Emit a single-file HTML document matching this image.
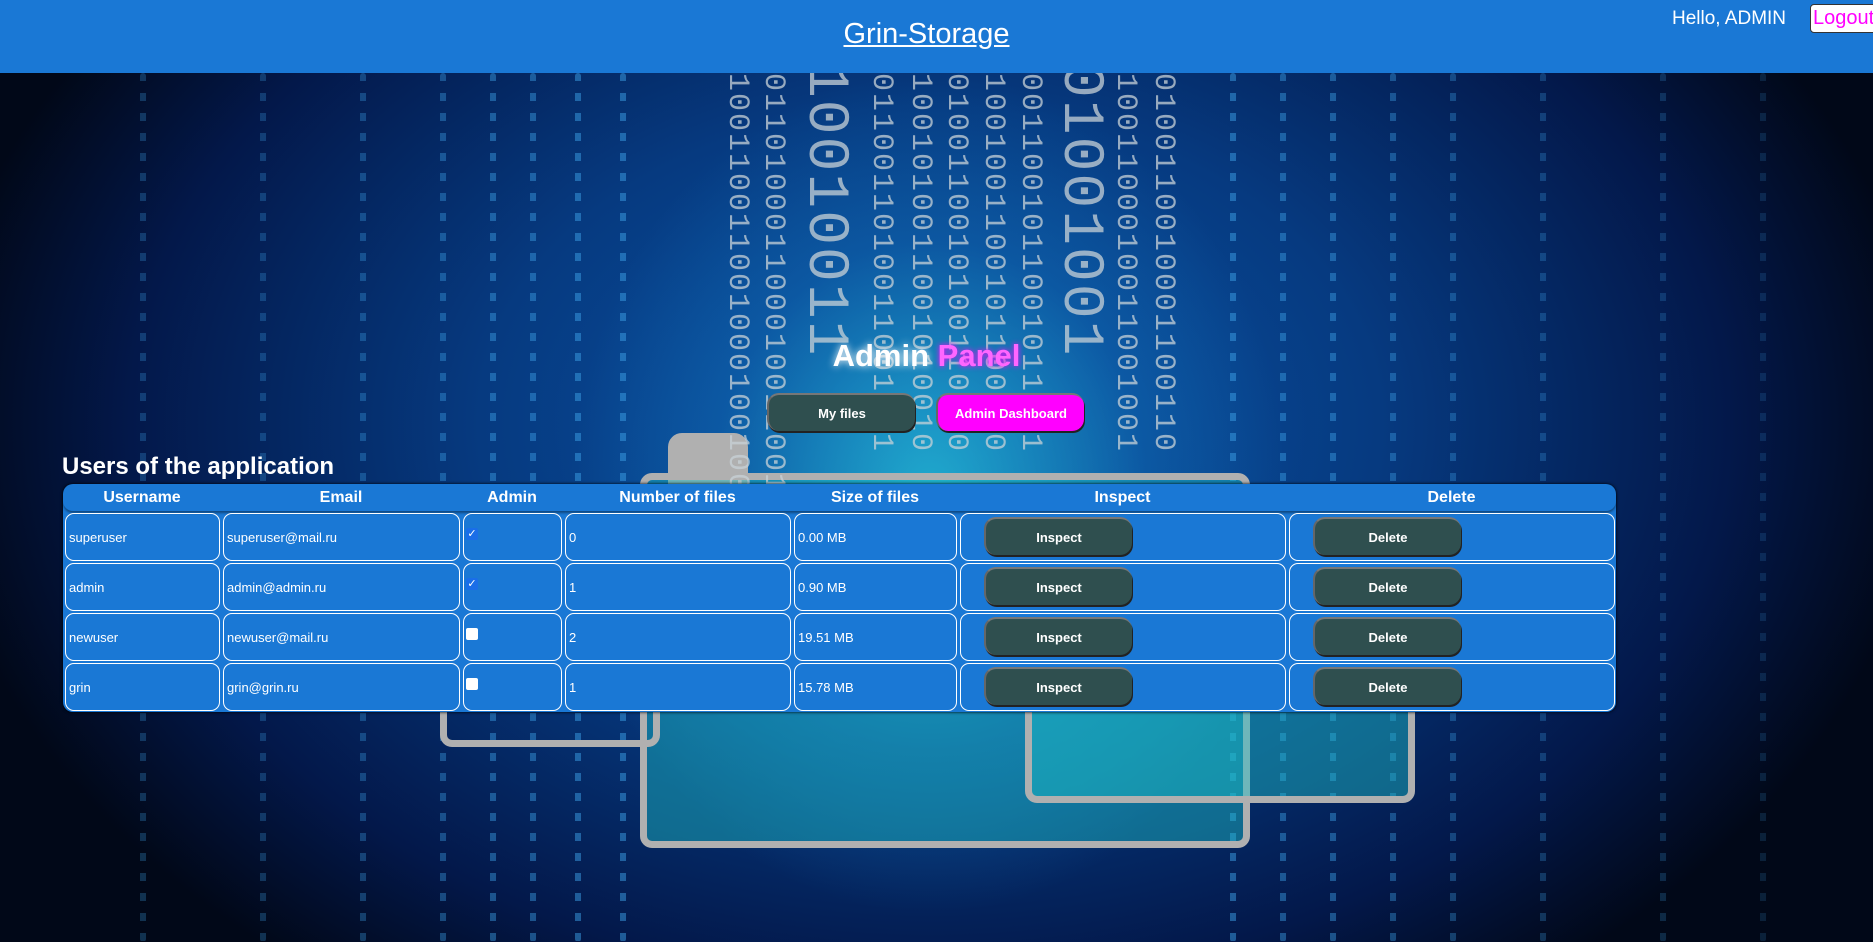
<!DOCTYPE html>
<html><head><meta charset="utf-8"><style>
*{margin:0;padding:0;box-sizing:border-box}
body{width:1873px;height:942px;overflow:hidden;position:relative;font-family:"Liberation Sans",sans-serif;background:#020c24}
#bg{position:absolute;left:0;top:73px;width:1873px;height:869px;overflow:hidden;
background:
radial-gradient(ellipse 360px 420px at 930px 420px,rgba(40,200,220,.75),rgba(20,120,190,.35) 60%,transparent 100%),
radial-gradient(ellipse 1000px 700px at 930px 350px,#0a55a8 0%,#063a80 45%,#03184a 80%,#010818 100%);}
.dots{position:absolute;top:0;width:6px;height:869px;background:repeating-linear-gradient(to bottom,rgba(60,160,230,.55) 0 8px,transparent 8px 20px);border-radius:3px}
.bin{position:absolute;top:0;writing-mode:vertical-rl;color:rgba(200,210,215,.75);font-family:"Liberation Mono",monospace;font-size:30px;line-height:1;white-space:nowrap;letter-spacing:2px}
.folder{position:absolute;border:7px solid #b0b0b0;border-radius:12px}
.hdr{position:absolute;left:0;top:0;width:1873px;height:73px;background:#1a78d5}
.cell{position:absolute;border:1.5px solid #fff;border-radius:9px;color:#fff;font-size:13px;display:flex;align-items:center;padding-left:3px}
.th{position:absolute;top:489px;color:#fff;font-weight:bold;font-size:16px;text-align:center}
.btn{position:absolute;width:148px;height:38px;background:#2f4f4f;border-radius:12px;color:#fff;font-weight:bold;font-size:13px;display:flex;align-items:center;justify-content:center;box-shadow:1px 2px 0 #222;border-top:2px solid #777;border-left:2px solid #666}
.cb{position:absolute;width:12px;height:12px;border-radius:2px;background:#fff}
.cb.on{background:#1a6ee8;color:#fff;font-size:11px;line-height:12px;text-align:center}
</style></head><body>
<div id="bg">
<div class="dots" style="left:140px;opacity:.5"></div><div class="dots" style="left:260px;opacity:.5"></div>
<div class="dots" style="left:360px;opacity:.6"></div><div class="dots" style="left:440px;opacity:.7"></div>
<div class="dots" style="left:490px;opacity:.8"></div><div class="dots" style="left:530px;opacity:.8"></div>
<div class="dots" style="left:575px;opacity:.9"></div><div class="dots" style="left:620px;opacity:.9"></div>
<div class="dots" style="left:1230px;opacity:.9"></div><div class="dots" style="left:1280px;opacity:.8"></div>
<div class="dots" style="left:1330px;opacity:.8"></div><div class="dots" style="left:1390px;opacity:.7"></div>
<div class="dots" style="left:1450px;opacity:.6"></div><div class="dots" style="left:1540px;opacity:.5"></div>
<div class="dots" style="left:1660px;opacity:.4"></div><div class="dots" style="left:1760px;opacity:.3"></div>
<div class="folder" style="left:668px;top:360px;width:80px;height:80px;background:#b0b0b0;border-radius:14px"></div>
<div class="folder" style="left:640px;top:400px;width:610px;height:375px;background:rgba(30,190,200,.45)"></div>
<div class="folder" style="left:1025px;top:560px;width:390px;height:170px;background:rgba(30,190,200,.45)"></div>
<div class="folder" style="left:440px;top:620px;width:220px;height:54px"></div>
<div class="bin" style="left:722px">1001100110010001001001</div>
<div class="bin" style="left:758px">0110100011000100110010</div>
<div class="bin" style="left:795px;font-size:58px;top:-10px">10010011</div>
<div class="bin" style="left:866px">0110011010011001101</div>
<div class="bin" style="left:905px">1001010011001010010</div>
<div class="bin" style="left:941px">0100110010100110010</div>
<div class="bin" style="left:978px">1001001100101100110</div>
<div class="bin" style="left:1015px">0011001011001011001</div>
<div class="bin" style="left:1050px;font-size:58px;top:-10px">01001001</div>
<div class="bin" style="left:1110px">1001100010011001001</div>
<div class="bin" style="left:1148px">0100110010001100110</div>
</div>
<div class="hdr"></div>
<div style="position:absolute;left:0;width:1853px;top:18px;text-align:center;color:#fff;font-size:29px;text-decoration:underline">Grin-Storage</div>
<div style="position:absolute;left:1672px;top:8px;color:#fff;font-size:19px">Hello, ADMIN</div>
<div style="position:absolute;left:1810px;top:4px;width:70px;height:29px;background:#fff;border:1px solid #333;border-radius:4px;color:#f0f;font-size:20px;padding-left:2px;line-height:26px">Logout</div>
<div style="position:absolute;left:0;width:1853px;top:338px;text-align:center;font-size:31px;font-weight:bold;color:#fff;text-shadow:0 0 8px #fff">Admin <span style="color:#f6f;text-shadow:0 0 6px #f0f">Panel</span></div>
<div class="btn" style="left:767px;top:393px">My files</div>
<div class="btn" style="left:936px;top:393px;background:#f0f">Admin Dashboard</div>
<div style="position:absolute;left:62px;top:453px;color:#fff;font-size:24px;font-weight:bold">Users of the application</div>
<div style="position:absolute;left:63px;top:484px;width:1553px;height:228px;background:#1a78d5;border-radius:10px;box-shadow:0 0 3px #000"></div>
<div style="position:absolute;left:63px;top:484px;width:1553px;height:27px;border-radius:10px;box-shadow:0 2px 2px rgba(0,0,0,.4)"></div>
<div class="th" style="left:63px;width:158px">Username</div>
<div class="th" style="left:221px;width:240px">Email</div>
<div class="th" style="left:461px;width:102px">Admin</div>
<div class="th" style="left:563px;width:229px">Number of files</div>
<div class="th" style="left:792px;width:166px">Size of files</div>
<div class="th" style="left:958px;width:329px">Inspect</div>
<div class="th" style="left:1287px;width:329px">Delete</div>
<div id="rows"></div>
<script>
var d=[["superuser","superuser@mail.ru",1,"0","0.00 MB"],["admin","admin@admin.ru",1,"1","0.90 MB"],["newuser","newuser@mail.ru",0,"2","19.51 MB"],["grin","grin@grin.ru",0,"1","15.78 MB"]];
var c=[63,221,461,563,792,958,1287,1616],h="";
d.forEach(function(r,i){var t=513+i*50;
for(var j=0;j<7;j++){var x=c[j]+2,w=c[j+1]-c[j]-3,txt="";
if(j<2)txt=r[j];else if(j==3)txt=r[3];else if(j==4)txt=r[4];
h+='<div class="cell" style="left:'+x+'px;top:'+t+'px;width:'+w+'px;height:48px">'+txt+'</div>';}
h+='<div class="cb'+(r[2]?' on':'')+'" style="left:466px;top:'+(t+15)+'px">'+(r[2]?'✓':'')+'</div>';
h+='<div class="btn" style="left:984px;top:'+(t+4)+'px">Inspect</div>';
h+='<div class="btn" style="left:1313px;top:'+(t+4)+'px">Delete</div>';});
document.getElementById("rows").innerHTML=h;
</script>
</body></html>
